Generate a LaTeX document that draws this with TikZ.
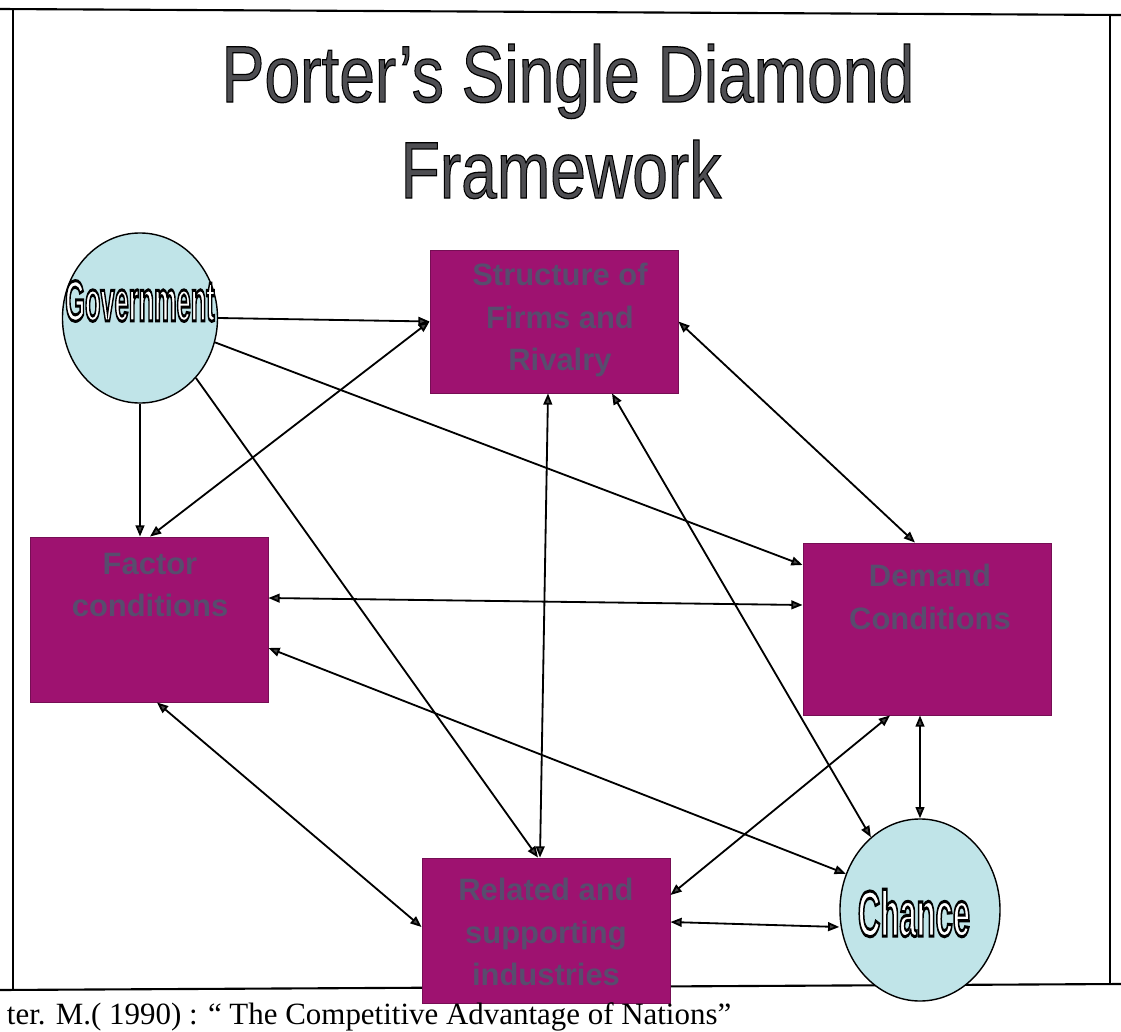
\documentclass[tikz,border=0pt]{standalone}
\usepackage{fontspec}
\setmainfont{Liberation Sans}
\newfontfamily\citefont{Liberation Serif}
\usepackage{tikz}
\usetikzlibrary{shapes, arrows.meta, positioning}
\usepackage{xcolor}

\definecolor{boxpurple}{RGB}{158,18,112}
\definecolor{boxtext}{RGB}{88,76,110}
\definecolor{paleblue}{RGB}{192,228,232}
\definecolor{titlegray}{RGB}{78,78,82}

% filled letters with a black rim (text render mode 2)
\newcommand\hollow[3]{{\color{#1}%
  \special{pdf:literal direct 0 G 2 Tr #2 w}#3\special{pdf:literal direct 0 Tr}}}

\begin{document}
\begin{tikzpicture}[x=0.025cm, y=-0.025cm,
    box/.style={rectangle, draw=boxpurple!75!black, fill=boxpurple, line width=0.6pt},
    boxlabel/.style={text=boxtext, font=\fontsize{22}{30}\selectfont\bfseries, align=center},
    oval/.style={ellipse, draw, line width=1pt, fill=paleblue, inner sep=0pt},
    heading/.style={anchor=base, font=\fontsize{57}{57}\selectfont},
    link/.style={line width=1.3pt},
    >={Triangle[length=0.28cm, width=0.22cm, fill=gray!55!black]}]
    \useasboundingbox (0,0) rectangle (1121,1032);
    \clip (0,0) rectangle (1121,1032);

    % page frame
    \draw [line width=1.5pt] (0,9) -- (1121,15);
    \draw [line width=1.5pt] (0,990) -- (1121,984);
    \draw [line width=1.5pt] (13,9) -- (13,990);
    \draw [line width=1.5pt] (1110,14) -- (1110,985);

    % title
    \node (title1) [heading] at (568,102)
        {\hollow{titlegray}{0.9}{\scalebox{0.8}[1]{Porter’s Single Diamond}}};
    \node (title2) [heading] at (561,198)
        {\hollow{titlegray}{0.9}{\scalebox{0.8}[1]{Framework}}};

    % the four boxes
    \node (struct) [box, minimum width=6.2cm, minimum height=3.575cm] at (554,321.5) {};
    \node (structtext) [boxlabel] at (560,320) {Structure of\\Firms and\\Rivalry};
    \node (factor) [box, minimum width=5.95cm, minimum height=4.125cm] at (149,619.5) {};
    \node (factortext) [boxlabel] at (150,585) {Factor\\conditions};
    \node (demand) [box, minimum width=6.2cm, minimum height=4.3cm] at (927,629) {};
    \node (demandtext) [boxlabel] at (930,597) {Demand\\Conditions};
    \node (related) [box, minimum width=6.2cm, minimum height=3.625cm] at (546,930.5) {};
    \node (relatedtext) [boxlabel] at (546,932) {Related and\\supporting\\industries};

    % the two outside forces
    \node (gov) [oval, minimum width=3.875cm, minimum height=4.25cm] at (140,318) {};
    \node (govtext) at (140,301)
        {\hollow{white}{2.2}{\scalebox{0.44}[1]{\fontsize{41}{41}\selectfont\bfseries Government}}};
    \node (chance) [oval, minimum width=4cm, minimum height=4.55cm] at (920,910) {};
    \node (chancetext) at (914,913)
        {\hollow{white}{2.2}{\scalebox{0.48}[1]{\fontsize{46}{46}\selectfont\bfseries Chance}}};

    % government acts on the diamond
    \draw [link, ->] (gov.east) -- (struct.west);
    \draw [link, ->] (gov.south) -- (gov.south |- factor.north);
    \draw [link, ->] (gov.-18) -- (demand.west |- 0,565);
    \draw [link, ->] (gov.-47) -- (related.north -| 538,0);

    % links inside the diamond
    \draw [link, <->] (factor.north -| 150,0) -- (struct.west);
    \draw [link, <->] (struct.south -| 548,0) -- (related.north -| 540,0);
    \draw [link, <->] (struct.east) -- (demand.north -| 915,0);
    \draw [link, <->] (factor.east |- 0,598) -- (demand.west |- 0,605);
    \draw [link, <->] (factor.south -| 157,0) -- (related.west |- 0,927);
    \draw [link, <->] (demand.south -| 890,0) -- (related.east |- 0,895);

    % chance
    \draw [link, <->] (struct.south -| 612,0) -- (chance.124);
    \draw [link, <->] (factor.east |- 0,648) -- (chance.154);
    \draw [link, <->] (demand.south -| chance.north) -- (chance.north);
    \draw [link, <->] (related.east |- 0,922) -- (chance.west |- 0,927);

    % source line under the frame
    \node (source) [anchor=base west, font=\citefont\fontsize{22}{22}\selectfont] at (2,1024)
        {ter. M.( 1990) : “ The Competitive Advantage of Nations”};
\end{tikzpicture}
\end{document}
